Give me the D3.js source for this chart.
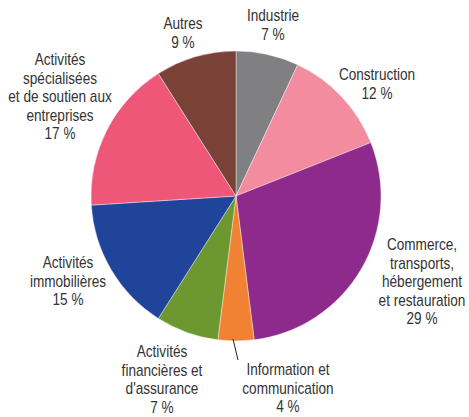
<!DOCTYPE html>
<html>
<head>
<meta charset="utf-8">
<script src="https://cdn.jsdelivr.net/npm/d3@7"></script>
<style>
  html, body { margin: 0; padding: 0; background: #fff; }
  svg text { font-family: "Liberation Sans", Arial, sans-serif; font-size: 16px; fill: #333; }
</style>
</head>
<body>
<svg id="chart" width="469" height="417"></svg>
<script>
// Répartition par secteur d'activité (en %)
const categories = [
  "Industrie",
  "Construction",
  "Commerce, transports, hébergement et restauration",
  "Information et communication",
  "Activités financières et d'assurance",
  "Activités immobilières",
  "Activités spécialisées et de soutien aux entreprises",
  "Autres"
];
const values = [7, 12, 29, 4, 7, 15, 17, 9];
const colors = ["#808083", "#f28c9e", "#8e2a8c", "#f28233", "#6c982f", "#21449b", "#ef5779", "#7a4137"];
const labelLines = [
  ["Industrie"],
  ["Construction"],
  ["Commerce,", "transports,", "hébergement", "et restauration"],
  ["Information et", "communication"],
  ["Activités", "financières et", "d'assurance"],
  ["Activités", "immobilières"],
  ["Activités", "spécialisées", "et de soutien aux", "entreprises"],
  ["Autres"]
];

// Layout: centre and radius of the pie, label anchors (centre x, first-line y)
const cx = 236, cy = 196, R = 145;
const lineH = 18.5;
const narrow = 0.85; // horizontal squeeze to get a condensed face
const labelPos = [
  [273, 16], [377, 75], [422, 245], [288, 370],
  [162, 352], [68, 263], [60, 60], [183, 24]
];

const svg = d3.select("#chart");
const g = svg.append("g").attr("transform", `translate(${cx},${cy})`);

const pie = d3.pie().sort(null).value(d => d.value);
const arc = d3.arc().innerRadius(0).outerRadius(R);
const data = categories.map((c, i) => ({ name: c, value: values[i], color: colors[i], lines: labelLines[i], pos: labelPos[i] }));
const arcs = pie(data);

g.selectAll("path.slice")
  .data(arcs)
  .join("path")
  .attr("class", "slice")
  .attr("d", arc)
  .attr("fill", d => d.data.color)
  .attr("stroke", "#fff")
  .attr("stroke-width", 0.4);

// Leader line for the small "Information et communication" slice
const info = arcs[3];
const mid = (info.startAngle + info.endAngle) / 2;
const p0 = [Math.sin(mid) * (R - 2), -Math.cos(mid) * (R - 2)];
svg.append("line")
  .attr("x1", cx + p0[0] - 3).attr("y1", cy + p0[1])
  .attr("x2", 238).attr("y2", 360)
  .attr("stroke", "#222").attr("stroke-width", 1);

// Labels: category name lines followed by the percentage
const labels = svg.selectAll("text.label")
  .data(arcs)
  .join("text")
  .attr("class", "label")
  .attr("text-anchor", "middle")
  .attr("dominant-baseline", "central")
  .attr("transform", d => `translate(${d.data.pos[0]},${d.data.pos[1]}) scale(${narrow},1)`);

labels.each(function (d) {
  const t = d3.select(this);
  const lines = d.data.lines.concat([d3.format("d")(d.data.value) + " %"]);
  lines.forEach((ln, k) => {
    t.append("tspan")
      .attr("x", 0)
      .attr("y", k * lineH)
      .text(ln);
  });
});
</script>
</body>
</html>
